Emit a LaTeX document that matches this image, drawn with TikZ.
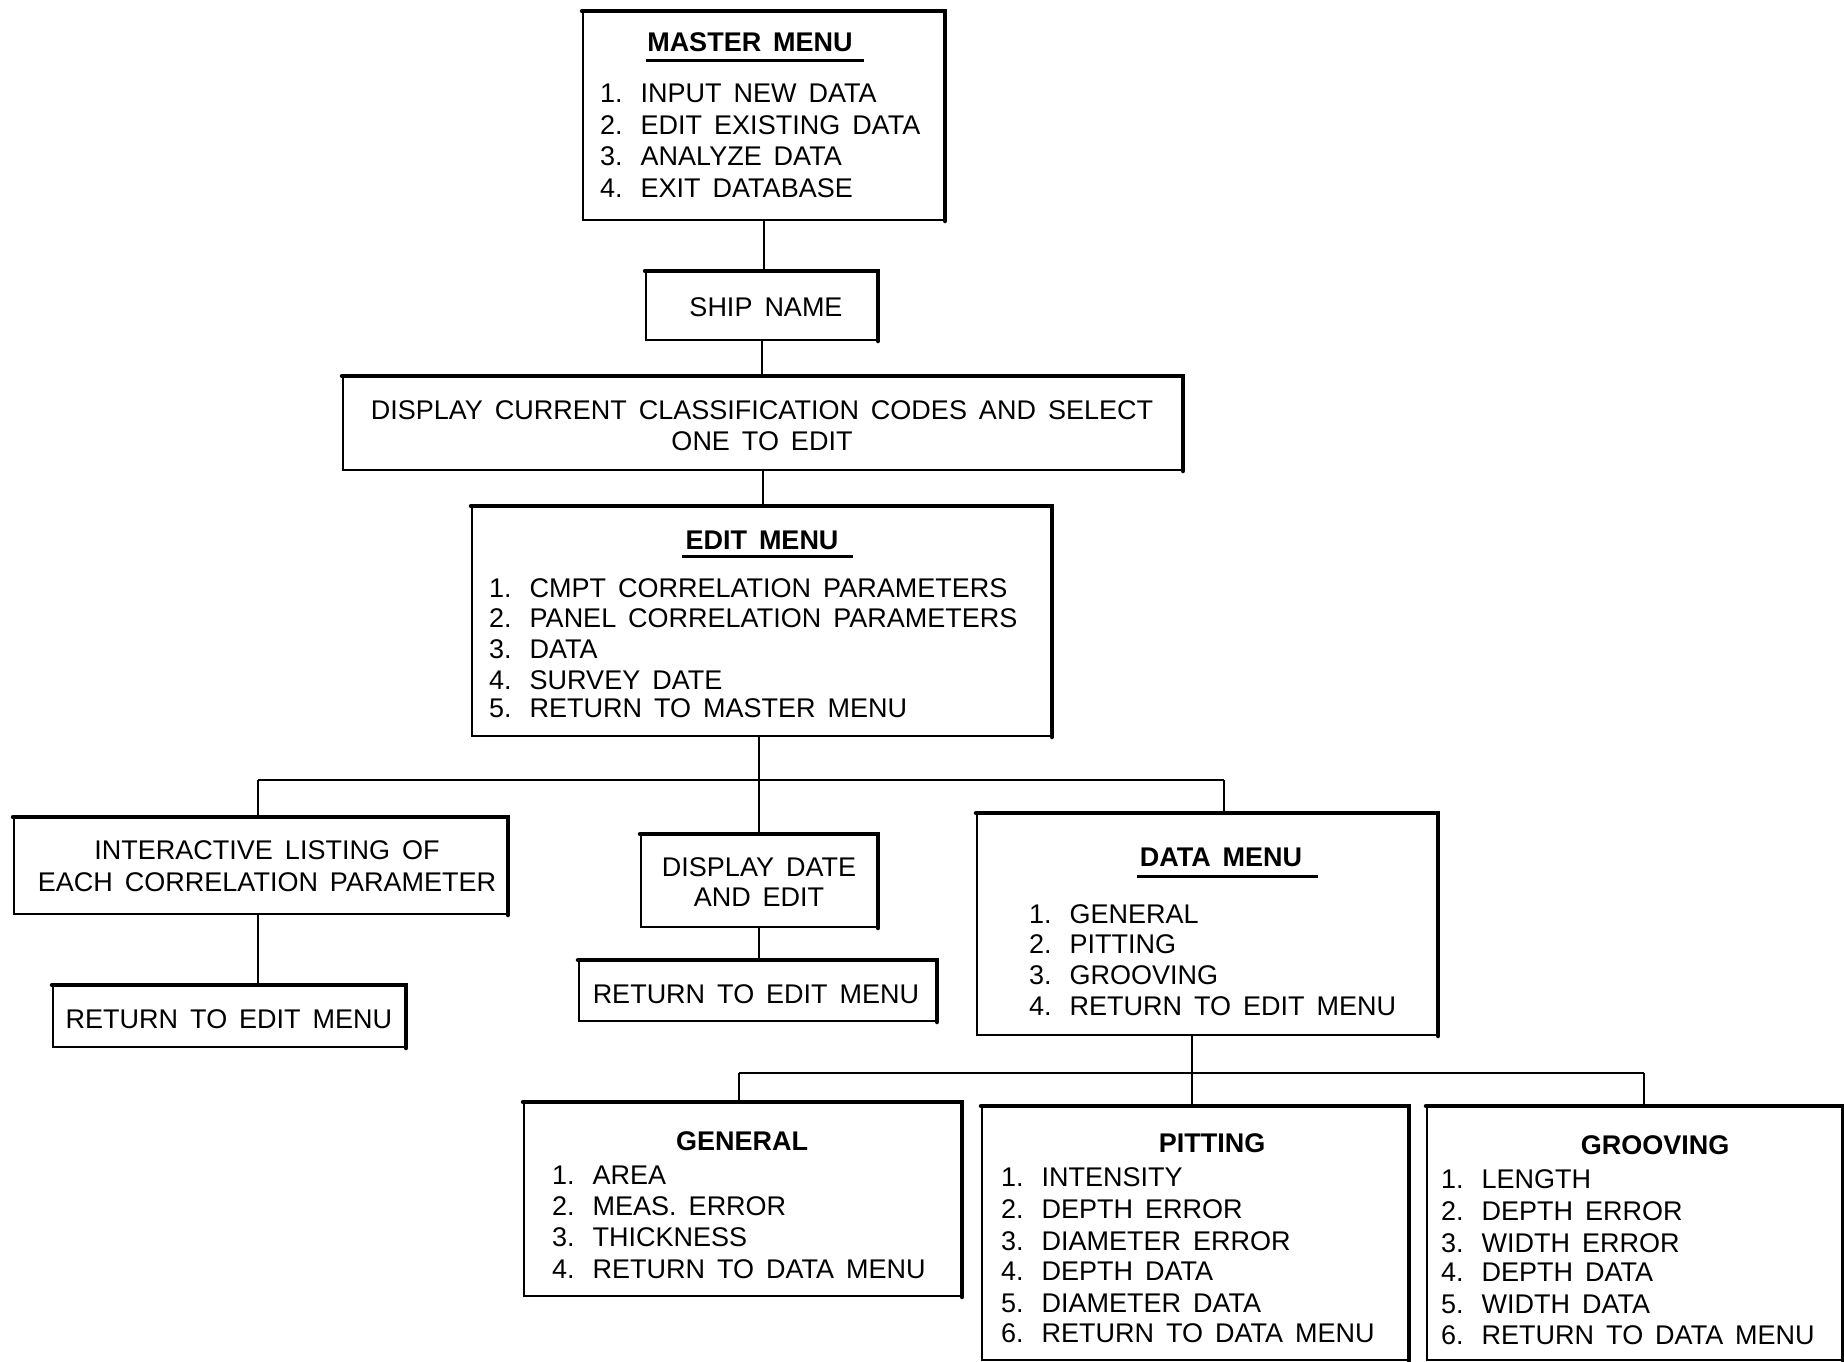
\documentclass[tikz,border=0pt]{standalone}
\usepackage{fontspec}
\setmainfont{Liberation Sans}[WordSpace=1.6]
\newcommand{\nsep}{\hspace{18pt}}
\begin{document}
\begin{tikzpicture}[x=1pt,y=-1pt,
  box/.style={draw,line width=2pt,inner sep=0pt,rectangle},
  conn/.style={line width=2pt},
  heavy/.style={line width=4.5pt},
  txt/.style={anchor=base west,inner sep=0pt,font=\fontsize{27}{27}\selectfont},
  ctxt/.style={anchor=base,inner sep=0pt,font=\fontsize{27}{27}\selectfont},
  ttl/.style={anchor=base,inner sep=0pt,font=\fontsize{27}{27}\selectfont\bfseries},
  uline/.style={line width=3pt}]
\useasboundingbox (0,0) rectangle (1844,1362);
\fill[white] (0,0) rectangle (1844,1362);
% boxes
\node[box,minimum width=361pt,minimum height=208pt] (mm) at (763.5,116) {};
\node[box,minimum width=231pt,minimum height=68pt] (ship) at (761.5,306) {};
\node[box,minimum width=839pt,minimum height=93pt] (disp) at (762.5,423.5) {};
\node[box,minimum width=579pt,minimum height=229pt] (edit) at (761.5,621.5) {};
\node[box,minimum width=493pt,minimum height=96pt] (inter) at (260.5,866) {};
\node[box,minimum width=352pt,minimum height=61pt] (retl) at (229,1016.5) {};
\node[box,minimum width=236pt,minimum height=92pt] (date) at (759,881) {};
\node[box,minimum width=357pt,minimum height=60pt] (retm) at (757.5,991) {};
\node[box,minimum width=460pt,minimum height=221pt] (data) at (1207,924.5) {};
\node[box,minimum width=437pt,minimum height=193pt] (gen) at (742.5,1199.5) {};
\node[box,minimum width=426pt,minimum height=253pt] (pit) at (1195,1233.5) {};
\node[box,minimum width=415pt,minimum height=253pt] (groo) at (1634.5,1233.5) {};
% heavy top and right edges
\foreach \b in {mm,ship,disp,edit,inter,retl,date,retm,data,gen,pit,groo}{
  \draw[heavy,line cap=round] (\b.north west) -- (\b.north east) -- (\b.south east);
}
% connectors
\draw[conn] (mm.south) -- (mm.south |- ship.north);
\draw[conn] (ship.south) -- (ship.south |- disp.north);
\draw[conn] (disp.south) -- (disp.south |- edit.north);
\coordinate (bl) at (258,780);
\coordinate (br) at (1224,780);
\coordinate (bm) at (759,780);
\draw[conn] (bm |- edit.south) -- (bm);
\draw[conn] (bl) -- (br);
\draw[conn] (bl) -- (bl |- inter.north);
\draw[conn] (bm) -- (bm |- date.north);
\draw[conn] (br) -- (br |- data.north);
\draw[conn] (bl |- inter.south) -- (bl |- retl.north);
\draw[conn] (bm |- date.south) -- (bm |- retm.north);
\coordinate (dl) at (739,1073);
\coordinate (dm) at (1192,1073);
\coordinate (dr) at (1644,1073);
\draw[conn] (dm |- data.south) -- (dm);
\draw[conn] (dl) -- (dr);
\draw[conn] (dl) -- (dl |- gen.north);
\draw[conn] (dm) -- (dm |- pit.north);
\draw[conn] (dr) -- (dr |- groo.north);
% master menu text
\node[ttl] (mmt) at (750,52) {MASTER MENU};
\draw[uline] (646,61) -- (864,61);
\node[txt] (mm1) at (600,103) {1.\nsep INPUT NEW DATA};
\node[txt] (mm2) at (600,135) {2.\nsep EDIT EXISTING DATA};
\node[txt] (mm3) at (600,165) {3.\nsep ANALYZE DATA};
\node[txt] (mm4) at (600,197) {4.\nsep EXIT DATABASE};
% ship
\node[ctxt] (shipt) at (766,316) {SHIP NAME};
% display
\node[ctxt] (disp1) at (762,419) {DISPLAY CURRENT CLASSIFICATION CODES AND SELECT};
\node[ctxt] (disp2) at (762,450) {ONE TO EDIT};
% edit menu
\node[ttl] (editt) at (762,549) {EDIT MENU};
\draw[uline] (682,556) -- (853,556);
\node[txt] (e1) at (489,597) {1.\nsep CMPT CORRELATION PARAMETERS};
\node[txt] (e2) at (489,627) {2.\nsep PANEL CORRELATION PARAMETERS};
\node[txt] (e3) at (489,658) {3.\nsep DATA};
\node[txt] (e4) at (489,689) {4.\nsep SURVEY DATE};
\node[txt] (e5) at (489,717) {5.\nsep RETURN TO MASTER MENU};
% interactive
\node[ctxt] (i1) at (267,859) {INTERACTIVE LISTING OF};
\node[ctxt] (i2) at (267,891) {EACH CORRELATION PARAMETER};
\node[ctxt] (rl) at (229,1028) {RETURN TO EDIT MENU};
% date
\node[ctxt] (d1) at (759,876) {DISPLAY DATE};
\node[ctxt] (d2) at (759,906) {AND EDIT};
\node[ctxt] (rm) at (756,1003) {RETURN TO EDIT MENU};
% data menu
\node[ttl] (datat) at (1221,866) {DATA MENU};
\draw[uline] (1137,876) -- (1318,876);
\node[txt] (dm1) at (1029,923) {1.\nsep GENERAL};
\node[txt] (dm2) at (1029,953) {2.\nsep PITTING};
\node[txt] (dm3) at (1029,984) {3.\nsep GROOVING};
\node[txt] (dm4) at (1029,1015) {4.\nsep RETURN TO EDIT MENU};
% general
\node[ttl] (gent) at (742,1150) {GENERAL};
\node[txt] (g1) at (552,1184) {1.\nsep AREA};
\node[txt] (g2) at (552,1215) {2.\nsep MEAS. ERROR};
\node[txt] (g3) at (552,1246) {3.\nsep THICKNESS};
\node[txt] (g4) at (552,1278) {4.\nsep RETURN TO DATA MENU};
% pitting
\node[ttl] (pitt) at (1212,1152) {PITTING};
\node[txt] (p1) at (1001,1186) {1.\nsep INTENSITY};
\node[txt] (p2) at (1001,1218) {2.\nsep DEPTH ERROR};
\node[txt] (p3) at (1001,1250) {3.\nsep DIAMETER ERROR};
\node[txt] (p4) at (1001,1280) {4.\nsep DEPTH DATA};
\node[txt] (p5) at (1001,1312) {5.\nsep DIAMETER DATA};
\node[txt] (p6) at (1001,1342) {6.\nsep RETURN TO DATA MENU};
% grooving
\node[ttl] (groot) at (1655,1154) {GROOVING};
\node[txt] (q1) at (1441,1188) {1.\nsep LENGTH};
\node[txt] (q2) at (1441,1220) {2.\nsep DEPTH ERROR};
\node[txt] (q3) at (1441,1252) {3.\nsep WIDTH ERROR};
\node[txt] (q4) at (1441,1281) {4.\nsep DEPTH DATA};
\node[txt] (q5) at (1441,1313) {5.\nsep WIDTH DATA};
\node[txt] (q6) at (1441,1344) {6.\nsep RETURN TO DATA MENU};
\end{tikzpicture}
\end{document}
